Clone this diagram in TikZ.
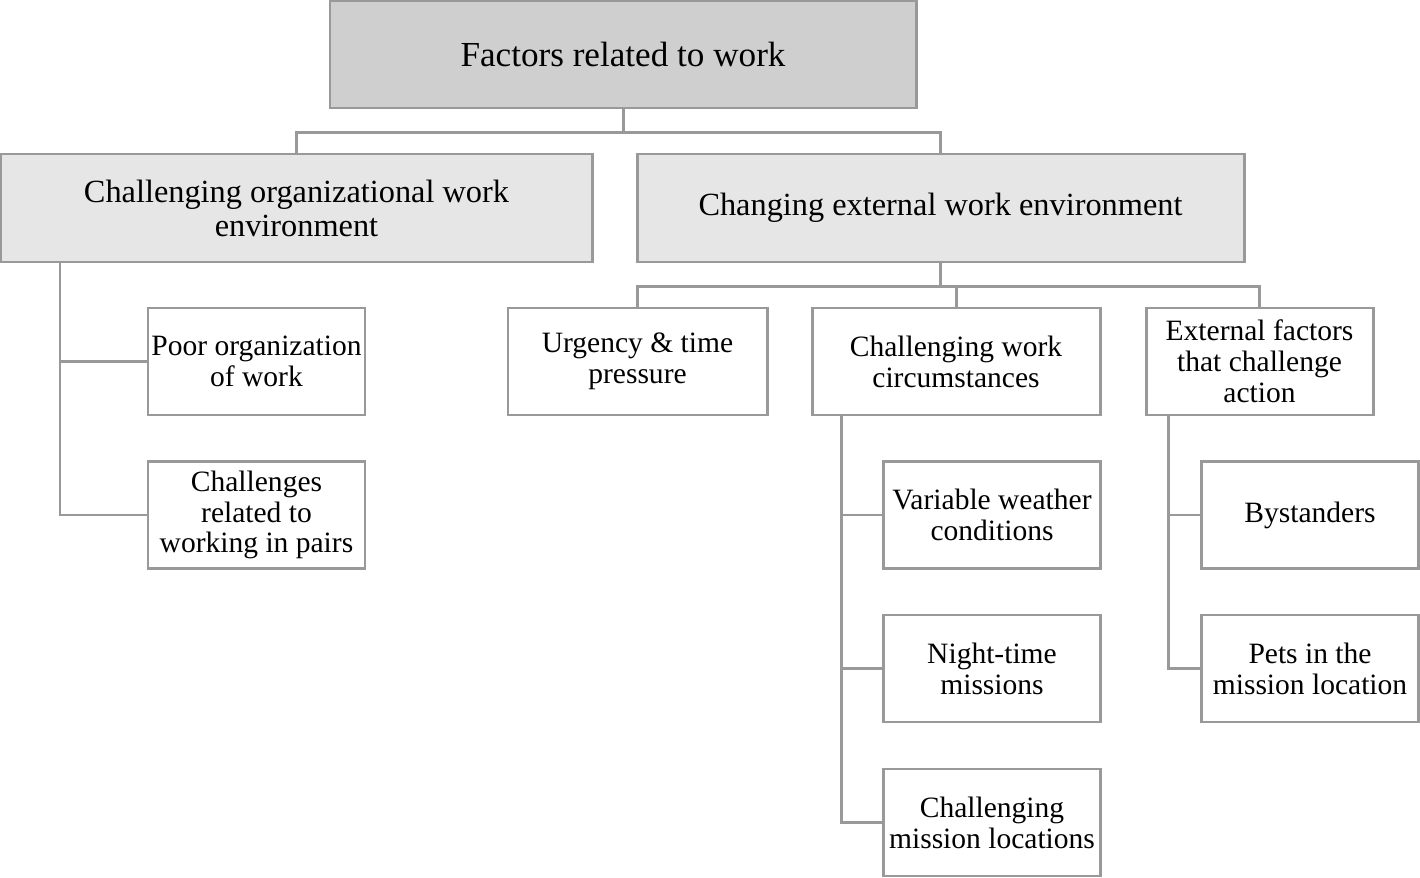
\documentclass[tikz,border=0pt]{standalone}
\usepackage{fontspec}
\setmainfont{Liberation Serif}
\definecolor{edgegray}{HTML}{999999}
\definecolor{topgray}{HTML}{D0CFD0}
\definecolor{midgray}{HTML}{E6E6E6}
\begin{document}
\begin{tikzpicture}[
    box/.style={draw=edgegray, line width=1.7pt, inner sep=0pt, align=center,
      minimum height=2.14cm},
    leaf/.style={box, fill=white, minimum width=4.34cm,
      font=\fontsize{16.8}{17.6}\selectfont},
    link/.style={draw=edgegray, line width=1.7pt}
  ]
  \useasboundingbox (0, 0) rectangle (28.4, -17.56);

  \node[box, fill=topgray, minimum width=11.72cm, font=\fontsize{20}{21}\selectfont]
    (top) at (12.46, -1.09) {Factors related to work};

  \node[box, fill=midgray, minimum width=11.82cm, minimum height=2.16cm,
    font=\fontsize{18.4}{19.4}\selectfont]
    (org) at (5.93, -4.16) {Challenging organizational work\\environment};
  \node[box, fill=midgray, minimum width=12.14cm, minimum height=2.16cm,
    font=\fontsize{18.4}{19.4}\selectfont]
    (ext) at (18.81, -4.16) {Changing external work environment};

  \node[leaf] (poor) at (5.13, -7.23) {Poor organization\\of work};
  \node[leaf] (pairs) at (5.13, -10.30) {Challenges\\related to\\working in pairs};

  \node[leaf, minimum width=5.18cm] (urgency) at (12.75, -7.23) {Urgency \& time\\pressure};
  \node[leaf, minimum width=5.76cm] (circ) at (19.12, -7.23) {Challenging work\\circumstances};
  \node[leaf, minimum width=4.54cm] (extf) at (25.19, -7.23) {External factors\\that challenge\\action};

  \node[leaf] (weather) at (19.84, -10.30) {Variable weather\\conditions};
  \node[leaf] (night) at (19.84, -13.37) {Night-time\\missions};
  \node[leaf] (mission) at (19.84, -16.45) {Challenging\\mission locations};

  \node[leaf] (bystanders) at (26.20, -10.30) {Bystanders};
  \node[leaf] (pets) at (26.20, -13.37) {Pets in the\\mission location};

  % top level
  \draw[link] (top.south) -- ++(0, -0.46) -| (org.north);
  \draw[link] (top.south) -- ++(0, -0.46) -| (ext.north);

  % organizational branch
  \coordinate (orgbus) at (1.2, -5.24);
  \draw[link] (orgbus) |- (pairs.west);
  \draw[link] (orgbus |- poor.west) -- (poor.west);

  % external branch
  \draw[link] (ext.south) -- ++(0, -0.46) -| (urgency.north);
  \draw[link] (ext.south) -- ++(0, -0.46) -| (circ.north);
  \draw[link] (ext.south) -- ++(0, -0.46) -| (extf.north);

  \coordinate (circbus) at (16.82, -8.30);
  \draw[link] (circbus) |- (mission.west);
  \draw[link] (circbus |- weather.west) -- (weather.west);
  \draw[link] (circbus |- night.west) -- (night.west);

  \coordinate (extfbus) at (23.36, -8.30);
  \draw[link] (extfbus) |- (pets.west);
  \draw[link] (extfbus |- bystanders.west) -- (bystanders.west);
\end{tikzpicture}
\end{document}
